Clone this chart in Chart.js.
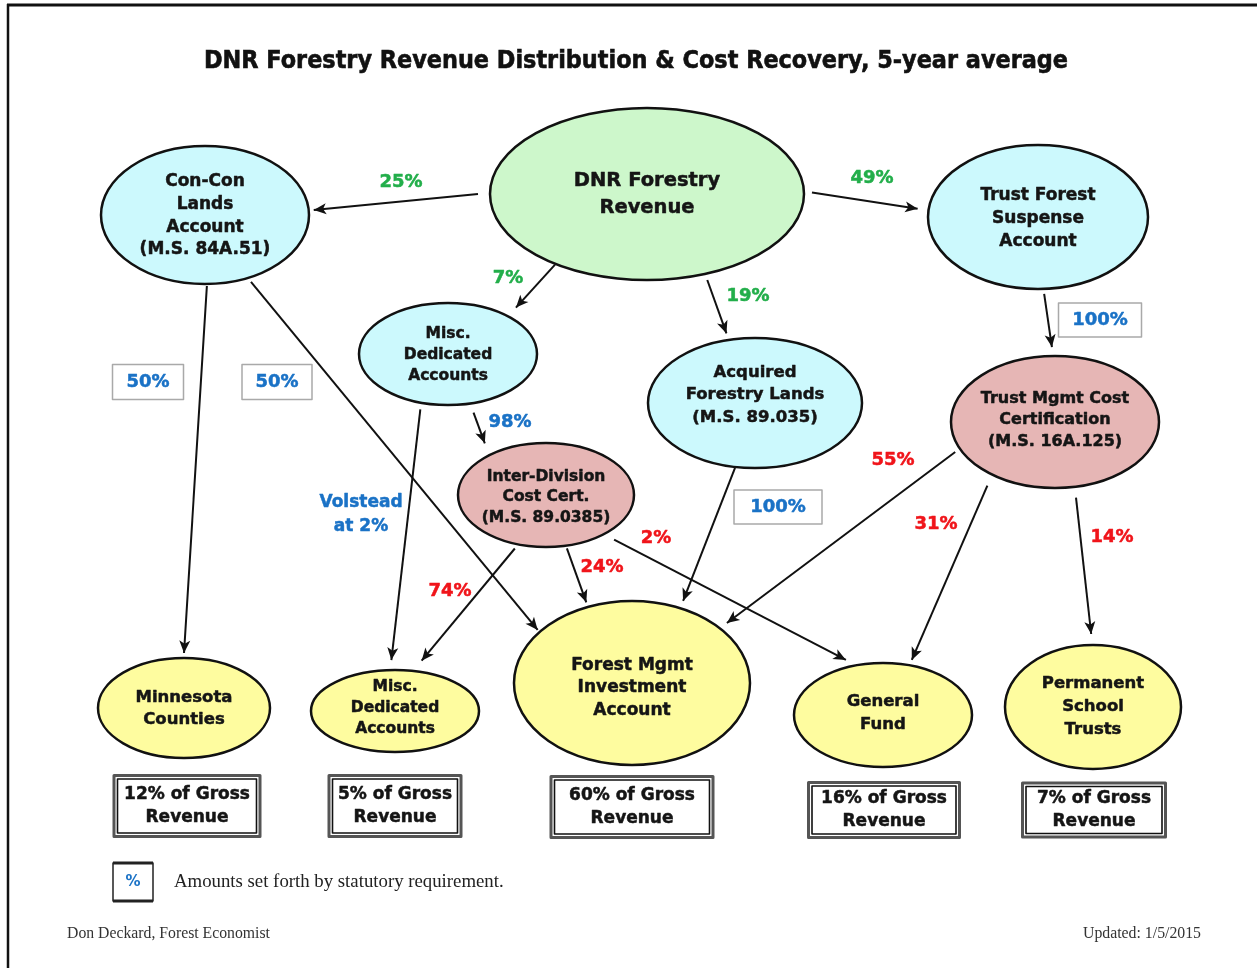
<!DOCTYPE html>
<html><head><meta charset="utf-8">
<style>html,body{margin:0;padding:0;background:#fff;overflow:hidden}canvas{display:block}</style>
<script src="https://cdn.jsdelivr.net/npm/chart.js@4.4.1/dist/chart.umd.min.js"></script>
</head><body>
<canvas id="c" width="1257" height="968"></canvas>
<script>
// ---------------- DATA ----------------
const chartTitle = 'DNR Forestry Revenue Distribution & Cost Recovery, 5-year average';
const nodeLabels = [
  ['DNR Forestry','Revenue'],
  ['Con-Con','Lands','Account','(M.S. 84A.51)'],
  ['Trust Forest','Suspense','Account'],
  ['Misc.','Dedicated','Accounts'],
  ['Acquired','Forestry Lands','(M.S. 89.035)'],
  ['Trust Mgmt Cost','Certification','(M.S. 16A.125)'],
  ['Inter-Division','Cost Cert.','(M.S. 89.0385)'],
  ['Minnesota','Counties'],
  ['Misc.','Dedicated','Accounts'],
  ['Forest Mgmt','Investment','Account'],
  ['General','Fund'],
  ['Permanent','School','Trusts']
];
const nodeKind = ['source','account','account','account','account','cost','cost','dest','dest','dest','dest','dest'];
const flowFrom  = [0,0,0,0,1,1,3,3,6,6,6,4,2,5,5,5];
const flowTo    = [1,2,3,4,7,9,8,6,8,9,10,9,5,9,10,11];
const flowLabel = [['25%'],['49%'],['7%'],['19%'],['50%'],['50%'],['Volstead','at 2%'],['98%'],['74%'],['24%'],['2%'],['100%'],['100%'],['55%'],['31%'],['14%']];
const flowKind  = ['revenue','revenue','revenue','revenue','statutory','statutory','rule','rule','cost','cost','cost','statutory','statutory','cost','cost','cost'];
const destNodes = [7,8,9,10,11];
const grossShare = [12,5,60,16,7];
const legendText = 'Amounts set forth by statutory requirement.';
const authorText = 'Don Deckard, Forest Economist';
const updatedText = 'Updated: 1/5/2015';

// ---------------- LAYOUT (diagram coordinates) ----------------
const L = {
  // cx, cy, rx, ry, fontSize, lineHeight, textDy
  nodes: [
    [647,194,157,86,19.5,27,0],
    [205,215,104,69,17,22.7,1],
    [1038,217,110,72,17,23,2],
    [448,354,89,51,15.5,21,1],
    [755,403,107,65,16.5,22.5,-8],
    [1055,422,104,66,16,21.5,-2],
    [546,495,88,52,15.5,20.5,2],
    [184,708,86,50,16.5,22,1],
    [395,711,84,41,15.5,21,-3],
    [632,683,118,82,17,22.5,5],
    [883,715,89,52,16.5,23,-2],
    [1093,707,88,62,16.5,23,0]
  ],
  // fromAngle, fromGap, toAngle, toGap
  edges: [
    [180,12,-4,5],[-1,8,-174,11],[125.5,1,-50,13],[69,7,-104,7],
    [89,2,-90,5],[65.5,5,-141,3],[106,7,-92,10],[76,10,-125,14],
    [109,5,-75.5,12],[77,3,-111.5,5],[48,11,-111.5,8],[100.6,1,-66.6,8],
    [87,5,-91.5,9],[154.7,6,-42.3,9],[124,13,-73,6],[80,11,-91,11]
  ],
  // label centre x, y (boxed: w, h)
  labels: [
    [401,182],[872,178],[508,278],[748,296],
    [148,382,71,35],[277,382,70,35],[361,503],[510,422],
    [450,591],[602,567],[656,538],[778,507,88,34],
    [1100,320,83,34],[893,460],[936,524],[1112,537]
  ],
  // share boxes: cx, cy, w, h
  boxes: [[187,806,149,64],[395,806,135,64],[632,807,165,64],[884,810,154,58],[1094,810,146,57]],
  title: [636,62,864],
  legendBox: [113,863,40,38],
  legendText: [174,882,331],
  footerY: 934, footerL: 67, footerR: 1201
};
const STYLE = {
  fill: {source:'#cdf7cb', account:'#ccf9fd', cost:'#e6b6b5', dest:'#fefc9f'},
  text: {revenue:'#22ae4a', statutory:'#1a72c6', rule:'#1a72c6', cost:'#f0141a'},
  font: '"DejaVu Sans", Verdana, sans-serif',
  serif: '"Liberation Serif", "Times New Roman", serif'
};

function anchor(n, deg, gap){
  const [cx,cy,rx,ry] = L.nodes[n];
  const t = deg*Math.PI/180;
  const bx = rx*Math.cos(t), by = ry*Math.sin(t);
  const k = 1 + gap/Math.hypot(bx,by);
  return {x: cx + bx*k, y: cy + by*k};
}

const datasets = flowFrom.map((f,i)=>{
  const e = L.edges[i];
  return {
    label: flowLabel[i].join(' '),
    data: [anchor(f,e[0],e[1]), anchor(flowTo[i],e[2],e[3])],
    showLine: true, borderColor:'#111', borderWidth:2, pointRadius:0, fill:false, clip:false
  };
});

function boldText(ctx, t, x, y, color, w){
  ctx.fillStyle = color; ctx.strokeStyle = color; ctx.lineWidth = w || 0.6;
  ctx.lineJoin = 'round';
  ctx.strokeText(t, x, y);
  ctx.fillText(t, x, y);
}

const diagram = {
  id:'diagram',
  beforeDatasetsDraw(chart){
    const ctx = chart.ctx, X = chart.scales.x, Y = chart.scales.y;
    ctx.save();
    // page frame
    ctx.strokeStyle = '#111';
    ctx.lineWidth = 3;
    ctx.beginPath(); ctx.moveTo(X.getPixelForValue(7), Y.getPixelForValue(5)); ctx.lineTo(X.getPixelForValue(1257), Y.getPixelForValue(5)); ctx.stroke();
    ctx.lineWidth = 2.5;
    ctx.beginPath(); ctx.moveTo(X.getPixelForValue(8), Y.getPixelForValue(4)); ctx.lineTo(X.getPixelForValue(8), Y.getPixelForValue(968)); ctx.stroke();
    // title
    ctx.fillStyle = '#111'; ctx.strokeStyle = '#111'; ctx.lineWidth = 0.6;
    ctx.font = 'bold 24px ' + STYLE.font;
    ctx.textAlign = 'center'; ctx.textBaseline = 'middle';
    ctx.strokeText(chartTitle, X.getPixelForValue(L.title[0]), Y.getPixelForValue(L.title[1]), L.title[2]);
    ctx.fillText(chartTitle, X.getPixelForValue(L.title[0]), Y.getPixelForValue(L.title[1]), L.title[2]);
    ctx.restore();
  },
  afterDatasetsDraw(chart){
    const ctx = chart.ctx, X = chart.scales.x, Y = chart.scales.y;
    const px = v => X.getPixelForValue(v), py = v => Y.getPixelForValue(v);
    ctx.save();
    // arrowheads
    chart.data.datasets.forEach(ds=>{
      const a = ds.data[0], b = ds.data[1];
      const x1 = px(a.x), y1 = py(a.y), x2 = px(b.x), y2 = py(b.y);
      const ang = Math.atan2(y2-y1, x2-x1);
      const len = 12.5, hw = 5.5;
      ctx.fillStyle = '#111';
      ctx.beginPath();
      ctx.moveTo(x2, y2);
      ctx.lineTo(x2 - len*Math.cos(ang) + hw*Math.sin(ang), y2 - len*Math.sin(ang) - hw*Math.cos(ang));
      ctx.lineTo(x2 - len*0.75*Math.cos(ang), y2 - len*0.75*Math.sin(ang));
      ctx.lineTo(x2 - len*Math.cos(ang) - hw*Math.sin(ang), y2 - len*Math.sin(ang) + hw*Math.cos(ang));
      ctx.closePath(); ctx.fill();
    });
    // nodes
    L.nodes.forEach((n,i)=>{
      const [cx,cy,rx,ry,fs,lh,dy] = n;
      const cxp = px(cx), cyp = py(cy);
      const rxp = px(cx+rx)-cxp, ryp = py(cy+ry)-cyp;
      ctx.beginPath();
      ctx.ellipse(cxp, cyp, rxp, ryp, 0, 0, Math.PI*2);
      ctx.fillStyle = STYLE.fill[nodeKind[i]];
      ctx.fill();
      ctx.lineWidth = 2.5; ctx.strokeStyle = '#111'; ctx.stroke();
      const lines = nodeLabels[i];
      ctx.font = 'bold ' + fs + 'px ' + STYLE.font;
      ctx.textAlign = 'center'; ctx.textBaseline = 'middle';
      const y0 = cy + dy - (lines.length-1)*lh/2;
      lines.forEach((t,j)=> boldText(ctx, t, cxp, py(y0 + j*lh), '#151515', 0.5));
    });
    // flow labels
    flowLabel.forEach((lines,i)=>{
      const lb = L.labels[i];
      const kind = flowKind[i];
      if (lb.length > 2) {
        ctx.fillStyle = '#fff';
        ctx.fillRect(px(lb[0]-lb[2]/2), py(lb[1]-lb[3]/2), lb[2], lb[3]);
        ctx.strokeStyle = '#a9a9a9'; ctx.lineWidth = 1.5;
        ctx.strokeRect(px(lb[0]-lb[2]/2), py(lb[1]-lb[3]/2), lb[2], lb[3]);
      }
      ctx.font = 'bold ' + (kind==='rule' && lines.length>1 ? 17 : 18) + 'px ' + STYLE.font;
      ctx.textAlign = 'center'; ctx.textBaseline = 'middle';
      lines.forEach((t,j)=> boldText(ctx, t, px(lb[0]), py(lb[1] + j*24), STYLE.text[kind], 0.5));
    });
    // gross share boxes
    destNodes.forEach((n,i)=>{
      const [cx,cy,w,h] = L.boxes[i];
      const x0 = px(cx-w/2), y0 = py(cy-h/2);
      ctx.fillStyle = '#fff'; ctx.fillRect(x0,y0,w,h);
      ctx.strokeStyle = '#555'; ctx.lineWidth = 3; ctx.strokeRect(x0+1.5,y0+1.5,w-3,h-3);
      ctx.strokeStyle = '#111'; ctx.lineWidth = 1.6; ctx.strokeRect(x0+5,y0+5,w-10,h-10);
      ctx.font = 'bold 17px ' + STYLE.font;
      ctx.textAlign = 'center'; ctx.textBaseline = 'middle';
      boldText(ctx, grossShare[i] + '% of Gross', px(cx), py(cy-11.5), '#151515', 0.5);
      boldText(ctx, 'Revenue', px(cx), py(cy+11.5), '#151515', 0.5);
    });
    // legend
    const lgb = L.legendBox;
    ctx.strokeStyle = '#222'; ctx.lineWidth = 1.5;
    ctx.strokeRect(px(lgb[0]), py(lgb[1]), lgb[2], lgb[3]);
    ctx.lineWidth = 3;
    ctx.beginPath();
    ctx.moveTo(px(lgb[0]), py(lgb[1])); ctx.lineTo(px(lgb[0]+lgb[2]), py(lgb[1]));
    ctx.moveTo(px(lgb[0]), py(lgb[1]+lgb[3])); ctx.lineTo(px(lgb[0]+lgb[2]), py(lgb[1]+lgb[3]));
    ctx.stroke();
    ctx.fillStyle = STYLE.text.statutory;
    ctx.font = 'bold 15px ' + STYLE.font;
    ctx.textAlign = 'center'; ctx.textBaseline = 'middle';
    ctx.fillText('%', px(lgb[0]+lgb[2]/2), py(lgb[1]+lgb[3]/2));
    ctx.fillStyle = '#222';
    ctx.font = '18.8px ' + STYLE.serif;
    ctx.textAlign = 'left';
    ctx.fillText(legendText, px(L.legendText[0]), py(L.legendText[1]), L.legendText[2]);
    // footer
    ctx.font = '15.8px ' + STYLE.serif;
    ctx.fillStyle = '#333';
    ctx.textAlign = 'left';
    ctx.fillText(authorText, px(L.footerL), py(L.footerY), 203);
    ctx.textAlign = 'right';
    ctx.fillText(updatedText, px(L.footerR), py(L.footerY), 118);
    ctx.restore();
  }
};

new Chart(document.getElementById('c'), {
  type: 'scatter',
  data: { datasets },
  options: {
    responsive: false, animation: false, devicePixelRatio: 1,
    layout: { padding: 0 },
    scales: {
      x: { type:'linear', min:0, max:1257, display:false },
      y: { type:'linear', min:0, max:968, reverse:true, display:false }
    },
    plugins: { legend:{display:false}, tooltip:{enabled:false}, title:{display:false} },
    events: []
  },
  plugins: [diagram]
});
</script>
</body></html>
